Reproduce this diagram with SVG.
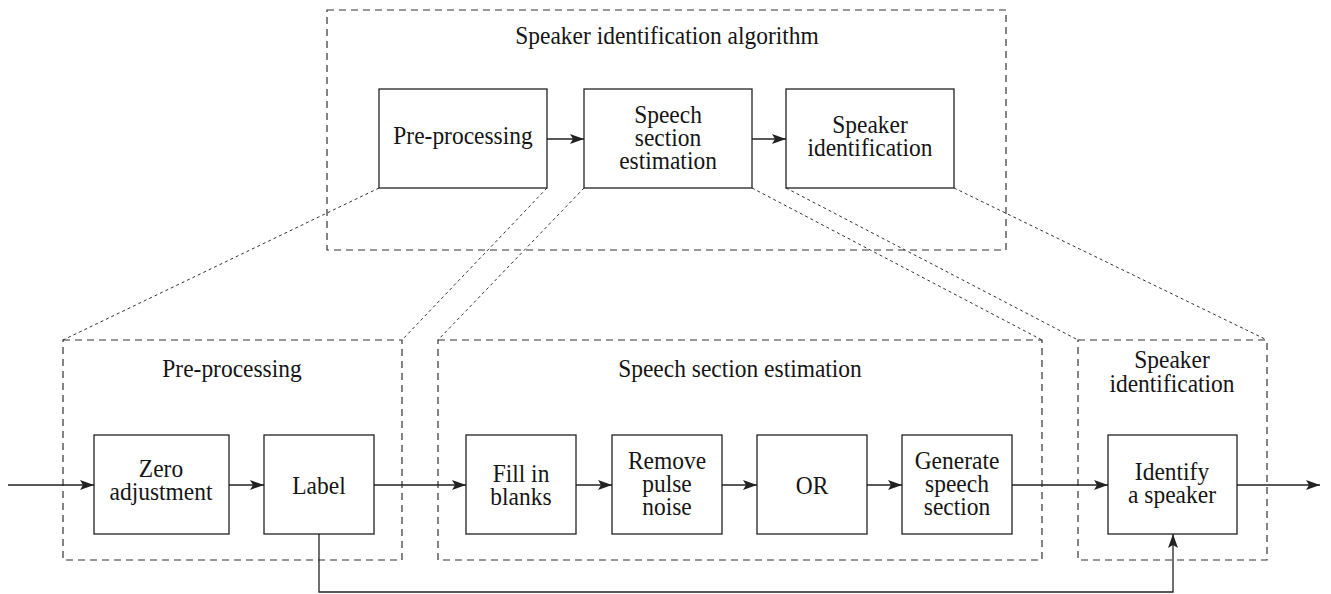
<svg xmlns="http://www.w3.org/2000/svg" width="1331" height="594" viewBox="0 0 1331 594">
  <style>
    text { font-family: "Liberation Serif", "Times New Roman", Times, serif; font-size: 25.5px; fill: #151515; text-anchor: middle; }
    .box { fill: #ffffff; stroke: #222222; stroke-width: 1.3; }
    .group { fill: none; stroke: #333333; stroke-width: 1.2; stroke-dasharray: 7 5; }
    .proj { fill: none; stroke: #333333; stroke-width: 1; stroke-dasharray: 3 3; }
    .arrow { fill: none; stroke: #222222; stroke-width: 1.3; marker-end: url(#head); }
  </style>
  <defs>
    <marker id="head" viewBox="0 0 14 10" refX="14" refY="5" markerWidth="14" markerHeight="10" markerUnits="userSpaceOnUse" orient="auto">
      <path d="M0,0 L14,5 L0,10 L3,5 Z" fill="#222222"/>
    </marker>
  </defs>
  <rect width="1331" height="594" fill="#ffffff"/>

  <!-- labels use a slightly narrowed serif: matrix(0.92 0 0 1 x y) -->

  <!-- enclosing groups -->
  <g id="group-algorithm">
    <rect class="group" x="327" y="10" width="679" height="240"/>
    <text transform="matrix(0.92 0 0 1 667 44)">Speaker identification algorithm</text>
  </g>
  <g id="group-preprocessing">
    <rect class="group" x="63" y="340" width="339" height="220"/>
    <text transform="matrix(0.92 0 0 1 232 377)">Pre-processing</text>
  </g>
  <g id="group-speech">
    <rect class="group" x="438" y="340" width="604" height="220"/>
    <text transform="matrix(0.92 0 0 1 740 377)">Speech section estimation</text>
  </g>
  <g id="group-speaker">
    <rect class="group" x="1078" y="340" width="189" height="220"/>
    <text transform="matrix(0.92 0 0 1 1172 368)">Speaker</text>
    <text transform="matrix(0.92 0 0 1 1172 392)">identification</text>
  </g>

  <!-- projection lines from overview blocks to detail groups -->
  <g id="projections">
    <line class="proj" x1="379" y1="188" x2="63" y2="340"/>
    <line class="proj" x1="547" y1="188" x2="402" y2="340"/>
    <line class="proj" x1="584" y1="188" x2="438" y2="340"/>
    <line class="proj" x1="752" y1="188" x2="1042" y2="340"/>
    <line class="proj" x1="786" y1="188" x2="1078" y2="340"/>
    <line class="proj" x1="954" y1="188" x2="1267" y2="340"/>
  </g>

  <!-- overview blocks -->
  <g id="top-preprocessing">
    <rect class="box" x="379" y="89" width="168" height="99"/>
    <text transform="matrix(0.92 0 0 1 463 144)">Pre-processing</text>
  </g>
  <g id="top-speech">
    <rect class="box" x="584" y="89" width="168" height="99"/>
    <text transform="matrix(0.92 0 0 1 668 123)">Speech</text>
    <text transform="matrix(0.92 0 0 1 668 146)">section</text>
    <text transform="matrix(0.92 0 0 1 668 169)">estimation</text>
  </g>
  <g id="top-speaker">
    <rect class="box" x="786" y="89" width="168" height="99"/>
    <text transform="matrix(0.92 0 0 1 870 133)">Speaker</text>
    <text transform="matrix(0.92 0 0 1 870 156)">identification</text>
  </g>

  <!-- detail blocks -->
  <g id="zero-adjustment">
    <rect class="box" x="94" y="435" width="135" height="99"/>
    <text transform="matrix(0.92 0 0 1 161 477)">Zero</text>
    <text transform="matrix(0.92 0 0 1 161 500)">adjustment</text>
  </g>
  <g id="label">
    <rect class="box" x="264" y="435" width="110" height="99"/>
    <text transform="matrix(0.92 0 0 1 319 494)">Label</text>
  </g>
  <g id="fill-in-blanks">
    <rect class="box" x="466" y="435" width="110" height="99"/>
    <text transform="matrix(0.92 0 0 1 521 482)">Fill in</text>
    <text transform="matrix(0.92 0 0 1 521 505)">blanks</text>
  </g>
  <g id="remove-pulse-noise">
    <rect class="box" x="612" y="435" width="110" height="99"/>
    <text transform="matrix(0.92 0 0 1 667 469)">Remove</text>
    <text transform="matrix(0.92 0 0 1 667 492)">pulse</text>
    <text transform="matrix(0.92 0 0 1 667 515)">noise</text>
  </g>
  <g id="or">
    <rect class="box" x="757" y="435" width="110" height="99"/>
    <text transform="matrix(0.92 0 0 1 812 494)">OR</text>
  </g>
  <g id="generate-speech-section">
    <rect class="box" x="902" y="435" width="110" height="99"/>
    <text transform="matrix(0.92 0 0 1 957 469)">Generate</text>
    <text transform="matrix(0.92 0 0 1 957 492)">speech</text>
    <text transform="matrix(0.92 0 0 1 957 515)">section</text>
  </g>
  <g id="identify-speaker">
    <rect class="box" x="1108" y="435" width="129" height="99"/>
    <text transform="matrix(0.92 0 0 1 1172 480)">Identify</text>
    <text transform="matrix(0.92 0 0 1 1172 503)">a speaker</text>
  </g>

  <!-- connectors -->
  <g id="connectors">
    <line class="arrow" x1="547" y1="139" x2="584" y2="139"/>
    <line class="arrow" x1="752" y1="139" x2="786" y2="139"/>
    <line class="arrow" x1="8" y1="485" x2="94" y2="485"/>
    <line class="arrow" x1="229" y1="485" x2="264" y2="485"/>
    <line class="arrow" x1="374" y1="485" x2="466" y2="485"/>
    <line class="arrow" x1="576" y1="485" x2="612" y2="485"/>
    <line class="arrow" x1="722" y1="485" x2="757" y2="485"/>
    <line class="arrow" x1="867" y1="485" x2="902" y2="485"/>
    <line class="arrow" x1="1012" y1="485" x2="1108" y2="485"/>
    <line class="arrow" x1="1237" y1="485" x2="1320" y2="485"/>
    <polyline class="arrow" points="319,534 319,592 1173,592 1173,534"/>
  </g>
</svg>
